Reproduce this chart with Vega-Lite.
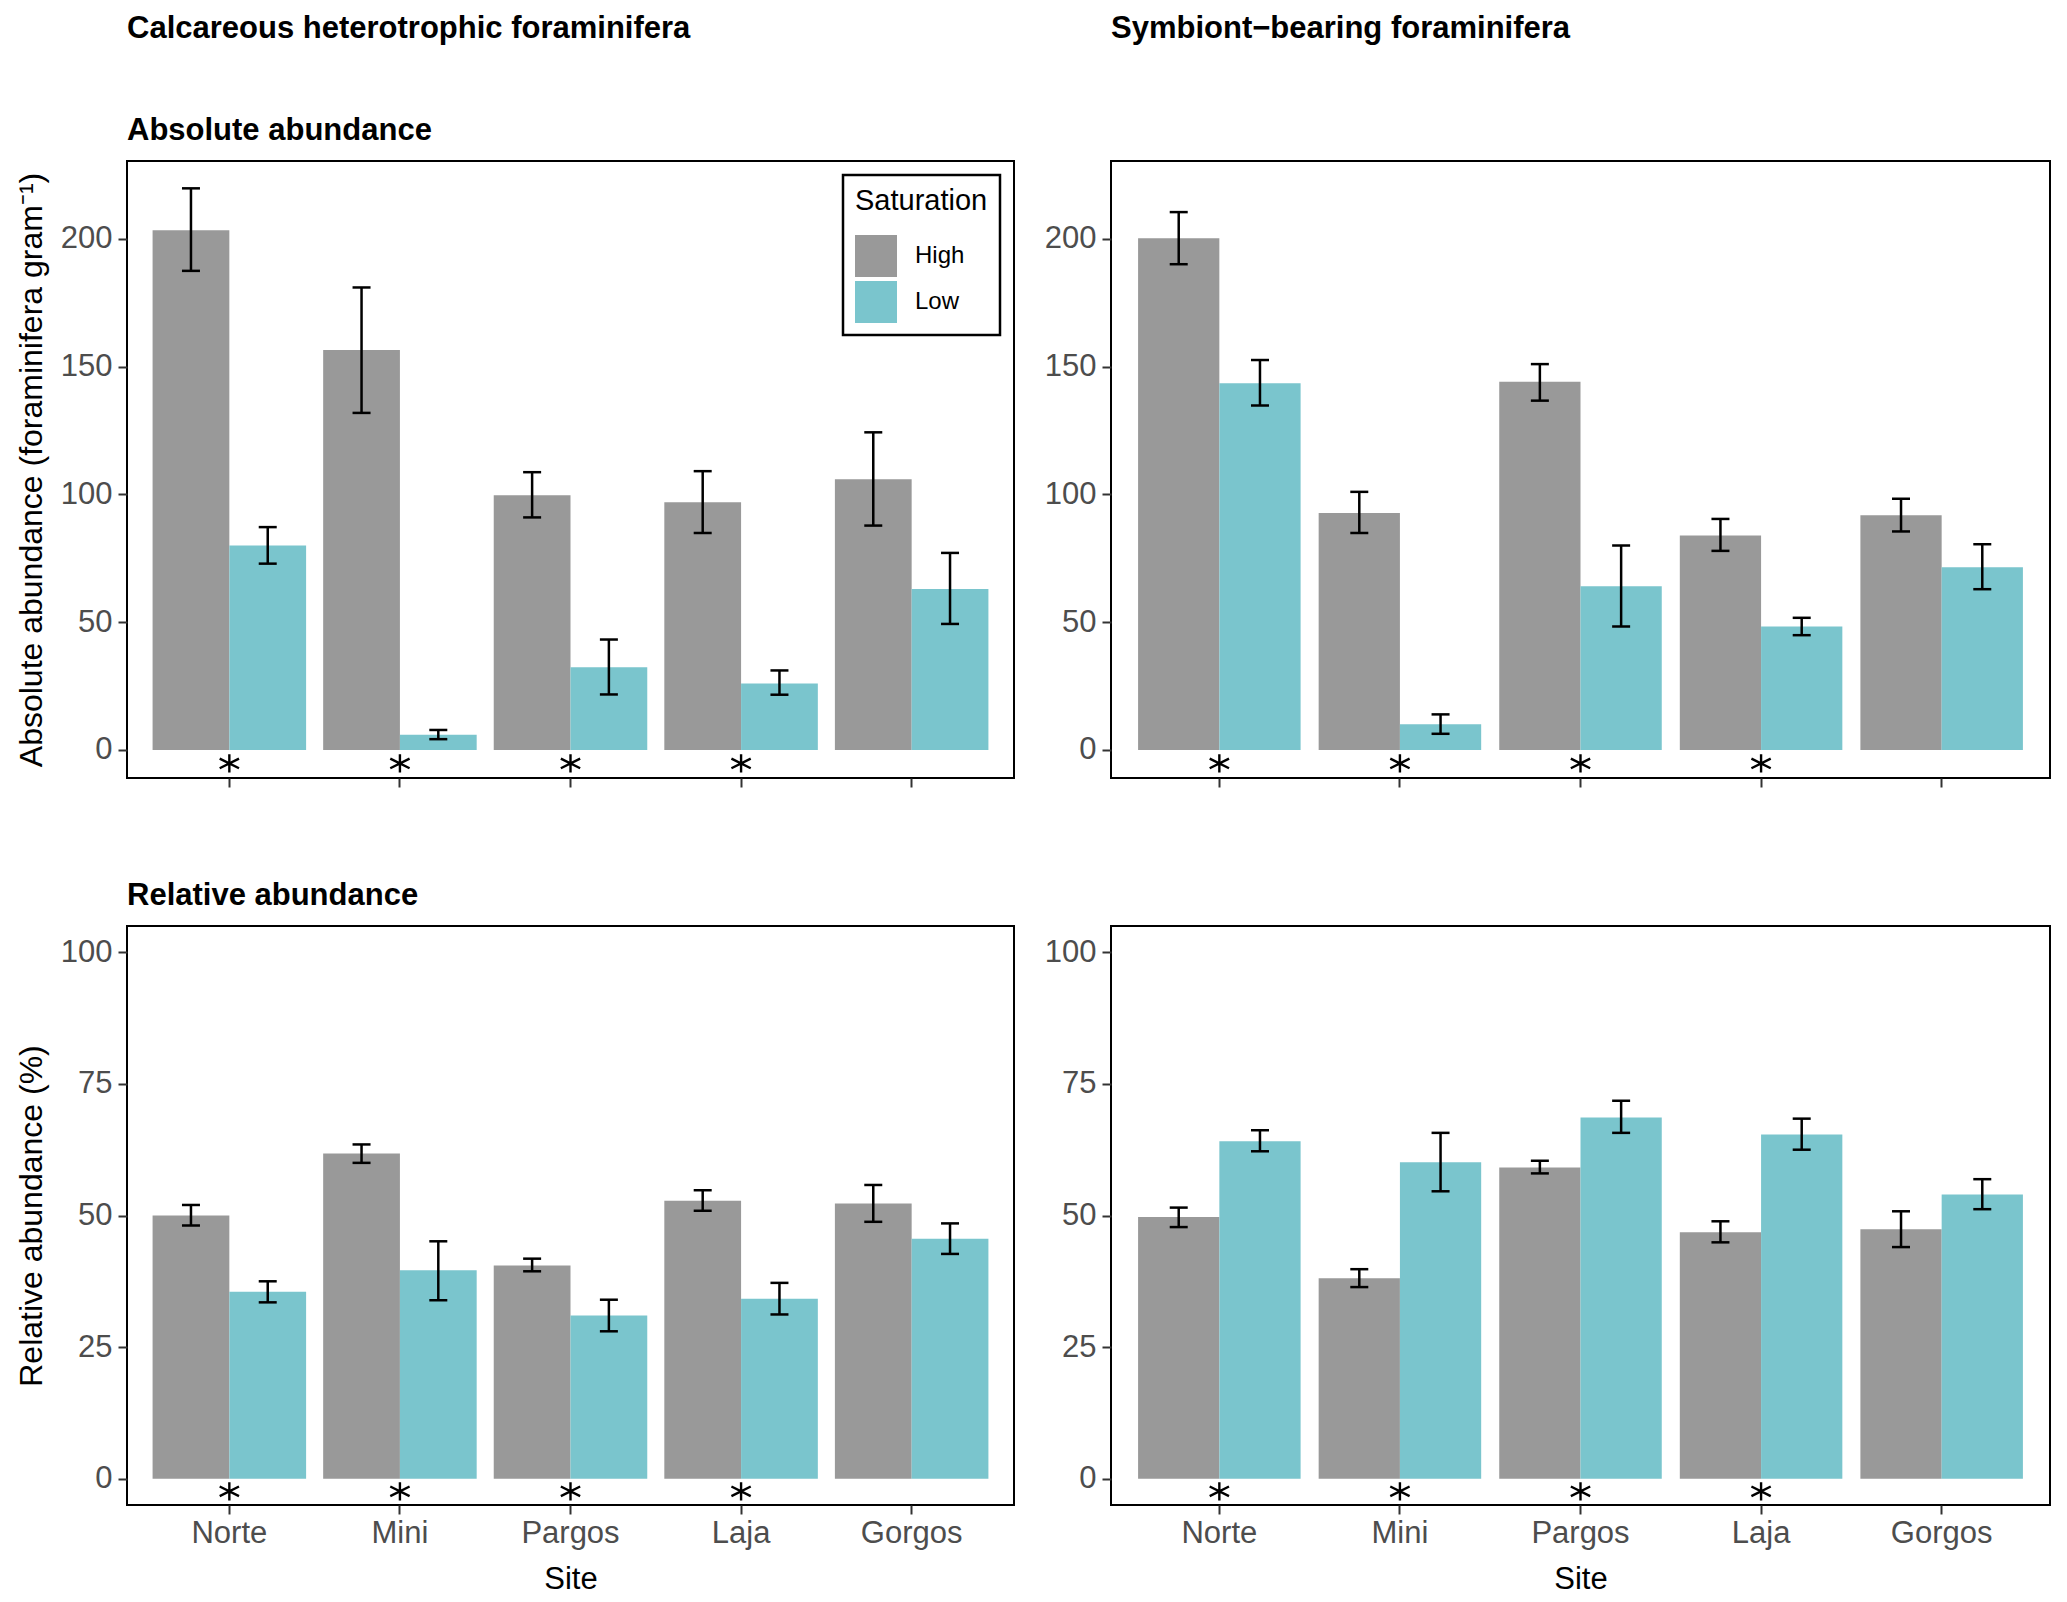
{
  "$schema": "https://vega.github.io/schema/vega-lite/v6.json",
  "background": "white",
  "padding": {"left": 14, "top": 12, "right": 17, "bottom": 8},
  "datasets": {
    "ca": [
      {"site": "Norte", "sat": "High", "value": 203.4, "lo": 187.5, "hi": 219.8},
      {"site": "Norte", "sat": "Low", "value": 80.0, "lo": 72.9, "hi": 87.2},
      {"site": "Mini", "sat": "High", "value": 156.5, "lo": 131.9, "hi": 181.0},
      {"site": "Mini", "sat": "Low", "value": 5.9, "lo": 4.2, "hi": 7.8},
      {"site": "Pargos", "sat": "High", "value": 99.7, "lo": 91.0, "hi": 108.7},
      {"site": "Pargos", "sat": "Low", "value": 32.3, "lo": 21.7, "hi": 43.2},
      {"site": "Laja", "sat": "High", "value": 96.9, "lo": 84.9, "hi": 109.1},
      {"site": "Laja", "sat": "Low", "value": 26.0, "lo": 21.6, "hi": 31.1},
      {"site": "Gorgos", "sat": "High", "value": 105.9, "lo": 87.8, "hi": 124.3},
      {"site": "Gorgos", "sat": "Low", "value": 63.0, "lo": 49.3, "hi": 77.1}
    ],
    "sa": [
      {"site": "Norte", "sat": "High", "value": 200.3, "lo": 190.1, "hi": 210.5},
      {"site": "Norte", "sat": "Low", "value": 143.5, "lo": 134.8, "hi": 152.6},
      {"site": "Mini", "sat": "High", "value": 92.7, "lo": 84.9, "hi": 101.0},
      {"site": "Mini", "sat": "Low", "value": 10.0, "lo": 6.3, "hi": 13.9},
      {"site": "Pargos", "sat": "High", "value": 144.1, "lo": 136.7, "hi": 151.0},
      {"site": "Pargos", "sat": "Low", "value": 64.1, "lo": 48.3, "hi": 80.0},
      {"site": "Laja", "sat": "High", "value": 83.9, "lo": 77.9, "hi": 90.4},
      {"site": "Laja", "sat": "Low", "value": 48.3, "lo": 44.9, "hi": 51.7},
      {"site": "Gorgos", "sat": "High", "value": 91.8, "lo": 85.5, "hi": 98.3},
      {"site": "Gorgos", "sat": "Low", "value": 71.5, "lo": 62.9, "hi": 80.5}
    ],
    "cr": [
      {"site": "Norte", "sat": "High", "value": 50.0, "lo": 48.1, "hi": 52.0},
      {"site": "Norte", "sat": "Low", "value": 35.5, "lo": 33.5, "hi": 37.5},
      {"site": "Mini", "sat": "High", "value": 61.8, "lo": 60.0, "hi": 63.5},
      {"site": "Mini", "sat": "Low", "value": 39.6, "lo": 33.9, "hi": 45.1},
      {"site": "Pargos", "sat": "High", "value": 40.5, "lo": 39.4, "hi": 41.8},
      {"site": "Pargos", "sat": "Low", "value": 31.0, "lo": 28.0, "hi": 34.0},
      {"site": "Laja", "sat": "High", "value": 52.8, "lo": 50.9, "hi": 54.8},
      {"site": "Laja", "sat": "Low", "value": 34.2, "lo": 31.2, "hi": 37.2},
      {"site": "Gorgos", "sat": "High", "value": 52.3, "lo": 48.8, "hi": 55.8},
      {"site": "Gorgos", "sat": "Low", "value": 45.6, "lo": 42.7, "hi": 48.5}
    ],
    "sr": [
      {"site": "Norte", "sat": "High", "value": 49.7, "lo": 47.8, "hi": 51.5},
      {"site": "Norte", "sat": "Low", "value": 64.1, "lo": 62.2, "hi": 66.2},
      {"site": "Mini", "sat": "High", "value": 38.1, "lo": 36.4, "hi": 39.8},
      {"site": "Mini", "sat": "Low", "value": 60.1, "lo": 54.6, "hi": 65.7},
      {"site": "Pargos", "sat": "High", "value": 59.1, "lo": 58.0, "hi": 60.4},
      {"site": "Pargos", "sat": "Low", "value": 68.6, "lo": 65.7, "hi": 71.8},
      {"site": "Laja", "sat": "High", "value": 46.8, "lo": 44.9, "hi": 48.9},
      {"site": "Laja", "sat": "Low", "value": 65.4, "lo": 62.5, "hi": 68.4},
      {"site": "Gorgos", "sat": "High", "value": 47.4, "lo": 44.0, "hi": 50.8},
      {"site": "Gorgos", "sat": "Low", "value": 54.0, "lo": 51.2, "hi": 56.9}
    ],
    "stars_abs": [
      {"site": "Norte", "y": -5.3},
      {"site": "Mini", "y": -5.3},
      {"site": "Pargos", "y": -5.3},
      {"site": "Laja", "y": -5.3}
    ],
    "stars_rel": [
      {"site": "Norte", "y": -2.4},
      {"site": "Mini", "y": -2.4},
      {"site": "Pargos", "y": -2.4},
      {"site": "Laja", "y": -2.4}
    ]
  },
  "columns": 2,
  "spacing": {"row": 90, "column": 28},
  "resolve": {
    "scale": {"color": "independent", "x": "independent", "y": "independent", "xOffset": "independent"},
    "legend": {"color": "independent"}
  },
  "concat": [
    {
      "width": 887,
      "height": 617,
      "title": {"text": "Calcareous heterotrophic foraminifera", "subtitle": "Absolute abundance"},
      "data": {"name": "ca"},
      "encoding": {
        "x": {"field": "site", "type": "nominal", "sort": ["Norte", "Mini", "Pargos", "Laja", "Gorgos"], "scale": {"paddingInner": 0.1, "paddingOuter": 0.15}, "axis": {"labels": false, "title": null}}
      },
      "layer": [
        {
          "mark": {"type": "bar"},
          "encoding": {
            "xOffset": {"field": "sat", "type": "nominal", "sort": ["High", "Low"]},
            "y": {"field": "value", "type": "quantitative", "scale": {"domain": [-11, 230.5], "nice": false, "zero": false}, "axis": {"values": [0, 50, 100, 150, 200], "title": "Absolute abundance (foraminifera gram⁻¹)"}},
            "color": {"field": "sat", "type": "nominal", "scale": {"domain": ["High", "Low"], "range": ["#999999", "#7AC5CD"]},
              "legend": {"orient": "top-right", "offset": 14, "title": "Saturation"}}
          }
        },
        {
          "mark": {"type": "rule", "color": "black", "strokeWidth": 2.5},
          "encoding": {
            "xOffset": {"field": "sat", "type": "nominal", "sort": ["High", "Low"]},
            "y": {"field": "lo", "type": "quantitative", "scale": {"domain": [-11, 230.5], "nice": false, "zero": false}, "axis": {"values": [0, 50, 100, 150, 200], "title": "Absolute abundance (foraminifera gram⁻¹)"}},
            "y2": {"field": "hi"}
          }
        },
        {
          "mark": {"type": "tick", "orient": "horizontal", "size": 18, "thickness": 2.5, "color": "black", "opacity": 1},
          "encoding": {
            "xOffset": {"field": "sat", "type": "nominal", "sort": ["High", "Low"]},
            "y": {"field": "lo", "type": "quantitative", "scale": {"domain": [-11, 230.5], "nice": false, "zero": false}, "axis": {"values": [0, 50, 100, 150, 200], "title": "Absolute abundance (foraminifera gram⁻¹)"}}
          }
        },
        {
          "mark": {"type": "tick", "orient": "horizontal", "size": 18, "thickness": 2.5, "color": "black", "opacity": 1},
          "encoding": {
            "xOffset": {"field": "sat", "type": "nominal", "sort": ["High", "Low"]},
            "y": {"field": "hi", "type": "quantitative", "scale": {"domain": [-11, 230.5], "nice": false, "zero": false}, "axis": {"values": [0, 50, 100, 150, 200], "title": "Absolute abundance (foraminifera gram⁻¹)"}}
          }
        },
        {
          "data": {"name": "stars_abs"},
          "mark": {"type": "point", "shape": "M0,-0.85L0,0.85M-0.9,-0.45L0.9,0.45M-0.9,0.45L0.9,-0.45", "filled": false, "size": 460, "color": "black", "strokeWidth": 2.4, "opacity": 1},
          "encoding": {
            "y": {"field": "y", "type": "quantitative", "scale": {"domain": [-11, 230.5], "nice": false, "zero": false}, "axis": {"values": [0, 50, 100, 150, 200], "title": "Absolute abundance (foraminifera gram⁻¹)"}}
          }
        }
      ]
    },
    {
      "width": 939,
      "height": 617,
      "title": {"text": "Symbiont−bearing foraminifera", "subtitle": " "},
      "data": {"name": "sa"},
      "encoding": {
        "x": {"field": "site", "type": "nominal", "sort": ["Norte", "Mini", "Pargos", "Laja", "Gorgos"], "scale": {"paddingInner": 0.1, "paddingOuter": 0.15}, "axis": {"labels": false, "title": null}}
      },
      "layer": [
        {
          "mark": {"type": "bar"},
          "encoding": {
            "xOffset": {"field": "sat", "type": "nominal", "sort": ["High", "Low"]},
            "y": {"field": "value", "type": "quantitative", "scale": {"domain": [-11, 230.5], "nice": false, "zero": false}, "axis": {"values": [0, 50, 100, 150, 200], "title": null}},
            "color": {"field": "sat", "type": "nominal", "scale": {"domain": ["High", "Low"], "range": ["#999999", "#7AC5CD"]}, "legend": null}
          }
        },
        {
          "mark": {"type": "rule", "color": "black", "strokeWidth": 2.5},
          "encoding": {
            "xOffset": {"field": "sat", "type": "nominal", "sort": ["High", "Low"]},
            "y": {"field": "lo", "type": "quantitative", "scale": {"domain": [-11, 230.5], "nice": false, "zero": false}, "axis": {"values": [0, 50, 100, 150, 200], "title": null}},
            "y2": {"field": "hi"}
          }
        },
        {
          "mark": {"type": "tick", "orient": "horizontal", "size": 18, "thickness": 2.5, "color": "black", "opacity": 1},
          "encoding": {
            "xOffset": {"field": "sat", "type": "nominal", "sort": ["High", "Low"]},
            "y": {"field": "lo", "type": "quantitative", "scale": {"domain": [-11, 230.5], "nice": false, "zero": false}, "axis": {"values": [0, 50, 100, 150, 200], "title": null}}
          }
        },
        {
          "mark": {"type": "tick", "orient": "horizontal", "size": 18, "thickness": 2.5, "color": "black", "opacity": 1},
          "encoding": {
            "xOffset": {"field": "sat", "type": "nominal", "sort": ["High", "Low"]},
            "y": {"field": "hi", "type": "quantitative", "scale": {"domain": [-11, 230.5], "nice": false, "zero": false}, "axis": {"values": [0, 50, 100, 150, 200], "title": null}}
          }
        },
        {
          "data": {"name": "stars_abs"},
          "mark": {"type": "point", "shape": "M0,-0.85L0,0.85M-0.9,-0.45L0.9,0.45M-0.9,0.45L0.9,-0.45", "filled": false, "size": 460, "color": "black", "strokeWidth": 2.4, "opacity": 1},
          "encoding": {
            "y": {"field": "y", "type": "quantitative", "scale": {"domain": [-11, 230.5], "nice": false, "zero": false}, "axis": {"values": [0, 50, 100, 150, 200], "title": null}}
          }
        }
      ]
    },
    {
      "width": 887,
      "height": 579,
      "title": {"text": "Relative abundance"},
      "data": {"name": "cr"},
      "encoding": {
        "x": {"field": "site", "type": "nominal", "sort": ["Norte", "Mini", "Pargos", "Laja", "Gorgos"], "scale": {"paddingInner": 0.1, "paddingOuter": 0.15}, "axis": {"title": "Site"}}
      },
      "layer": [
        {
          "mark": {"type": "bar"},
          "encoding": {
            "xOffset": {"field": "sat", "type": "nominal", "sort": ["High", "Low"]},
            "y": {"field": "value", "type": "quantitative", "scale": {"domain": [-5, 105], "nice": false, "zero": false}, "axis": {"values": [0, 25, 50, 75, 100], "title": "Relative abundance (%)"}},
            "color": {"field": "sat", "type": "nominal", "scale": {"domain": ["High", "Low"], "range": ["#999999", "#7AC5CD"]}, "legend": null}
          }
        },
        {
          "mark": {"type": "rule", "color": "black", "strokeWidth": 2.5},
          "encoding": {
            "xOffset": {"field": "sat", "type": "nominal", "sort": ["High", "Low"]},
            "y": {"field": "lo", "type": "quantitative", "scale": {"domain": [-5, 105], "nice": false, "zero": false}, "axis": {"values": [0, 25, 50, 75, 100], "title": "Relative abundance (%)"}},
            "y2": {"field": "hi"}
          }
        },
        {
          "mark": {"type": "tick", "orient": "horizontal", "size": 18, "thickness": 2.5, "color": "black", "opacity": 1},
          "encoding": {
            "xOffset": {"field": "sat", "type": "nominal", "sort": ["High", "Low"]},
            "y": {"field": "lo", "type": "quantitative", "scale": {"domain": [-5, 105], "nice": false, "zero": false}, "axis": {"values": [0, 25, 50, 75, 100], "title": "Relative abundance (%)"}}
          }
        },
        {
          "mark": {"type": "tick", "orient": "horizontal", "size": 18, "thickness": 2.5, "color": "black", "opacity": 1},
          "encoding": {
            "xOffset": {"field": "sat", "type": "nominal", "sort": ["High", "Low"]},
            "y": {"field": "hi", "type": "quantitative", "scale": {"domain": [-5, 105], "nice": false, "zero": false}, "axis": {"values": [0, 25, 50, 75, 100], "title": "Relative abundance (%)"}}
          }
        },
        {
          "data": {"name": "stars_rel"},
          "mark": {"type": "point", "shape": "M0,-0.85L0,0.85M-0.9,-0.45L0.9,0.45M-0.9,0.45L0.9,-0.45", "filled": false, "size": 460, "color": "black", "strokeWidth": 2.4, "opacity": 1},
          "encoding": {
            "y": {"field": "y", "type": "quantitative", "scale": {"domain": [-5, 105], "nice": false, "zero": false}, "axis": {"values": [0, 25, 50, 75, 100], "title": "Relative abundance (%)"}}
          }
        }
      ]
    },
    {
      "width": 939,
      "height": 579,
      "data": {"name": "sr"},
      "encoding": {
        "x": {"field": "site", "type": "nominal", "sort": ["Norte", "Mini", "Pargos", "Laja", "Gorgos"], "scale": {"paddingInner": 0.1, "paddingOuter": 0.15}, "axis": {"title": "Site"}}
      },
      "layer": [
        {
          "mark": {"type": "bar"},
          "encoding": {
            "xOffset": {"field": "sat", "type": "nominal", "sort": ["High", "Low"]},
            "y": {"field": "value", "type": "quantitative", "scale": {"domain": [-5, 105], "nice": false, "zero": false}, "axis": {"values": [0, 25, 50, 75, 100], "title": null}},
            "color": {"field": "sat", "type": "nominal", "scale": {"domain": ["High", "Low"], "range": ["#999999", "#7AC5CD"]}, "legend": null}
          }
        },
        {
          "mark": {"type": "rule", "color": "black", "strokeWidth": 2.5},
          "encoding": {
            "xOffset": {"field": "sat", "type": "nominal", "sort": ["High", "Low"]},
            "y": {"field": "lo", "type": "quantitative", "scale": {"domain": [-5, 105], "nice": false, "zero": false}, "axis": {"values": [0, 25, 50, 75, 100], "title": null}},
            "y2": {"field": "hi"}
          }
        },
        {
          "mark": {"type": "tick", "orient": "horizontal", "size": 18, "thickness": 2.5, "color": "black", "opacity": 1},
          "encoding": {
            "xOffset": {"field": "sat", "type": "nominal", "sort": ["High", "Low"]},
            "y": {"field": "lo", "type": "quantitative", "scale": {"domain": [-5, 105], "nice": false, "zero": false}, "axis": {"values": [0, 25, 50, 75, 100], "title": null}}
          }
        },
        {
          "mark": {"type": "tick", "orient": "horizontal", "size": 18, "thickness": 2.5, "color": "black", "opacity": 1},
          "encoding": {
            "xOffset": {"field": "sat", "type": "nominal", "sort": ["High", "Low"]},
            "y": {"field": "hi", "type": "quantitative", "scale": {"domain": [-5, 105], "nice": false, "zero": false}, "axis": {"values": [0, 25, 50, 75, 100], "title": null}}
          }
        },
        {
          "data": {"name": "stars_rel"},
          "mark": {"type": "point", "shape": "M0,-0.85L0,0.85M-0.9,-0.45L0.9,0.45M-0.9,0.45L0.9,-0.45", "filled": false, "size": 460, "color": "black", "strokeWidth": 2.4, "opacity": 1},
          "encoding": {
            "y": {"field": "y", "type": "quantitative", "scale": {"domain": [-5, 105], "nice": false, "zero": false}, "axis": {"values": [0, 25, 50, 75, 100], "title": null}}
          }
        }
      ]
    }
  ],
  "config": {
    "font": "Liberation Sans",
    "view": {"stroke": "black", "strokeWidth": 2},
    "axis": {
      "domain": false,
      "grid": false,
      "labelFont": "Liberation Sans",
      "labelFontSize": 31,
      "labelColor": "#4d4d4d",
      "tickColor": "#333333",
      "tickSize": 9,
      "tickWidth": 2,
      "titleFont": "Liberation Sans",
      "titleFontSize": 31,
      "titleFontWeight": "normal",
      "titleColor": "black"
    },
    "axisX": {"labelPadding": 4, "titlePadding": 16, "labelAngle": 0},
    "axisY": {"labelPadding": 6, "titlePadding": 12, "titleFontSize": 32},
    "title": {
      "anchor": "start",
      "frame": "group",
      "font": "Liberation Sans",
      "fontSize": 31,
      "fontWeight": "bold",
      "color": "black",
      "subtitleFont": "Liberation Sans",
      "subtitleFontSize": 31,
      "subtitleFontWeight": "bold",
      "subtitleColor": "black",
      "subtitlePadding": 71,
      "offset": 14
    },
    "legend": {
      "titleFont": "Liberation Sans",
      "titleFontSize": 29,
      "titleFontWeight": "normal",
      "titleColor": "black",
      "labelFont": "Liberation Sans",
      "labelFontSize": 24,
      "labelColor": "black",
      "symbolType": "square",
      "symbolSize": 1764,
      "symbolStrokeWidth": 0,
      "symbolOpacity": 1,
      "labelOffset": 18,
      "rowPadding": 4,
      "titlePadding": 19,
      "padding": 12,
      "strokeColor": "black",
      "strokeWidth": 2.5,
      "fillColor": "white"
    }
  }
}
